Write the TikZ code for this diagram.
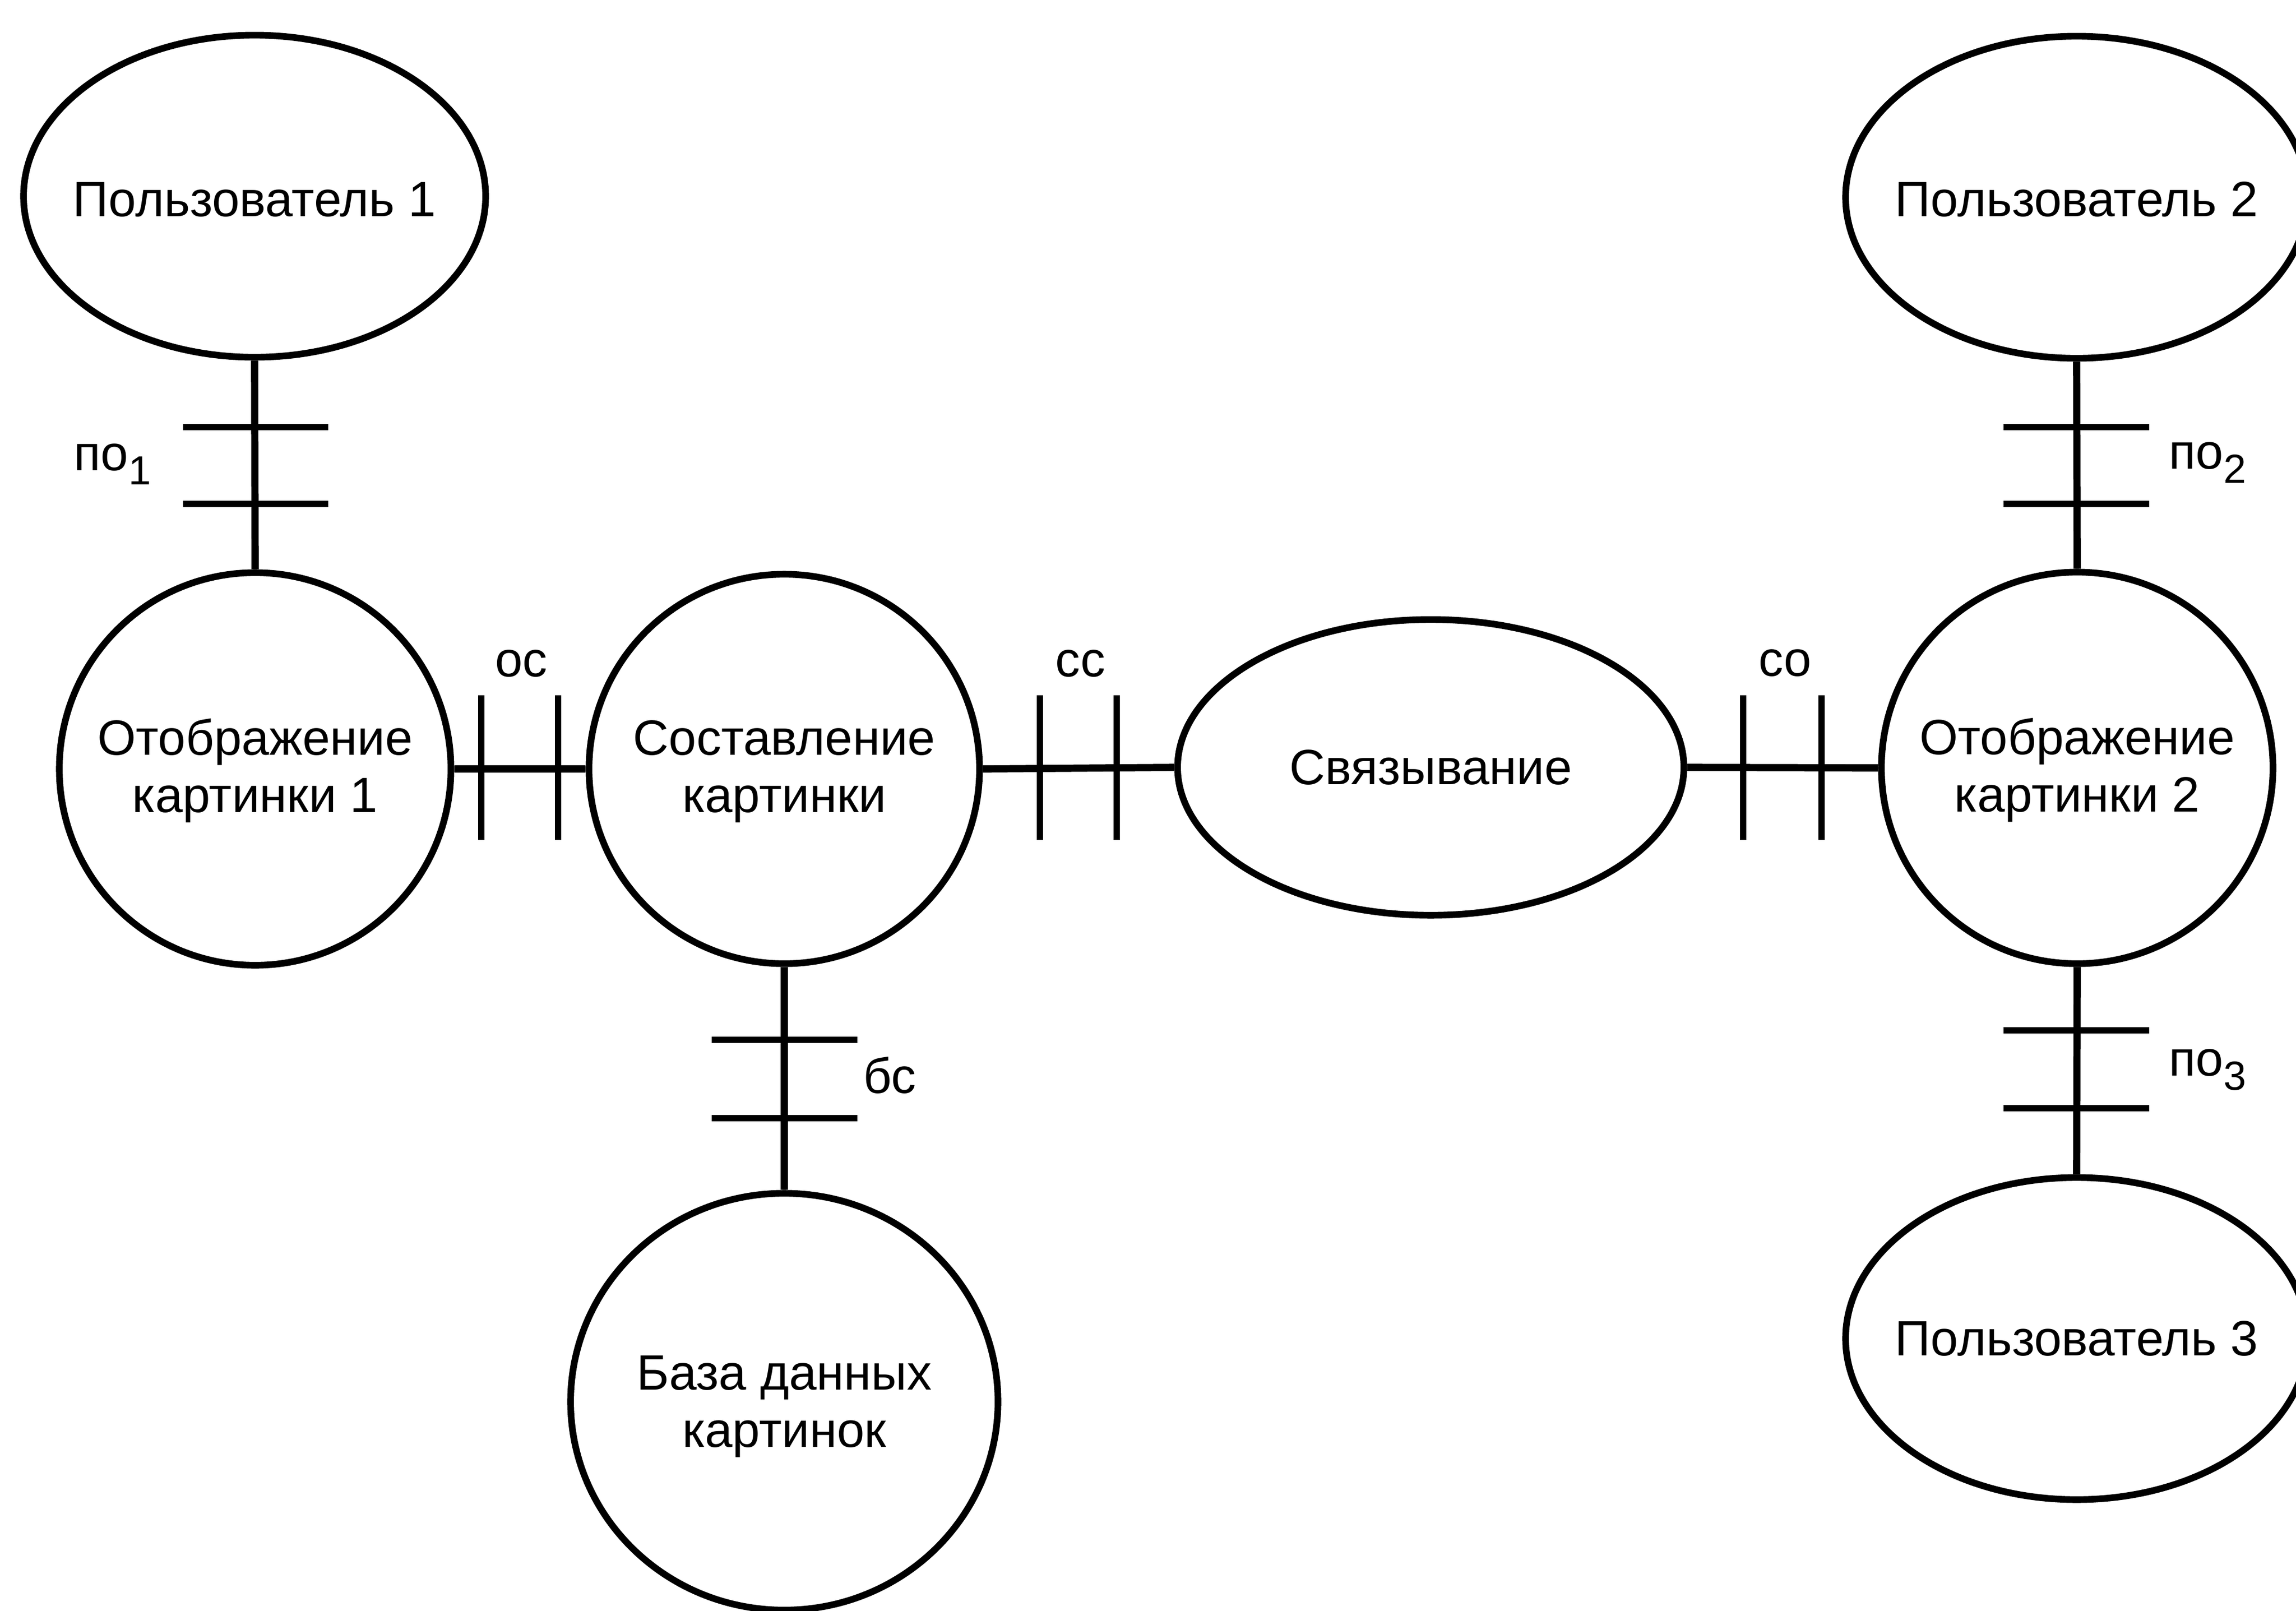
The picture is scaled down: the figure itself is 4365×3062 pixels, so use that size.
\documentclass[tikz,border=0pt]{standalone}
\usepackage{fontspec}
\setmainfont{Liberation Sans}
\usetikzlibrary{shapes.geometric}
\begin{document}
\begin{tikzpicture}[x=0.01cm,y=-0.01cm,
  txt/.style={font=\fontsize{26.8}{31}\selectfont},
  proc/.style={ellipse, draw, line width=3.6pt, inner sep=0pt},
  ptext/.style={txt, align=center, inner sep=0pt},
  conn/.style={line width=3.9pt},
  tickline/.style={line width=3.6pt},
  lab/.style={inner sep=0pt, anchor=base west, txt},
  labc/.style={inner sep=0pt, anchor=base, txt}]
\useasboundingbox (0,0) rectangle (4365,3062);
\clip (0,0) rectangle (4365,3062);
\newcommand{\subdig}[1]{\raisebox{-0.27cm}{\fontsize{22}{22}\selectfont #1}}

% nodes (shapes)
\node[proc, minimum width=8.78cm, minimum height=6.12cm] (u1) at (484,373) {};
\node[proc, minimum width=8.78cm, minimum height=6.12cm] (u2) at (3948,375) {};
\node[proc, minimum width=8.78cm, minimum height=6.12cm] (u3) at (3948,2545) {};
\node[proc, minimum width=7.44cm, minimum height=7.46cm] (d1) at (485,1462) {};
\node[proc, minimum width=7.42cm, minimum height=7.40cm] (cp) at (1491,1462) {};
\node[proc, minimum width=9.62cm, minimum height=5.62cm] (lk) at (2720,1459) {};
\node[proc, minimum width=7.44cm, minimum height=7.44cm] (d2) at (3949,1460) {};
\node[proc, minimum width=8.12cm, minimum height=7.92cm] (db) at (1491,2665) {};

% node texts
\node[ptext] (u1t) at ([yshift=-0.07cm]u1.center) {Пользователь 1};
\node[ptext] (u2t) at ([yshift=-0.04cm]u2.center) {Пользователь 2};
\node[ptext] (u3t) at (u3.center) {Пользователь 3};
\node[ptext] (d1t) at ([yshift=-0.03cm]d1.center) {Отображение\\картинки 1};
\node[ptext] (cpt) at ([yshift=-0.05cm]cp.center) {Составление\\картинки};
\node[ptext] (lkt) at (lk.center) {Связывание};
\node[ptext] (d2t) at ([yshift=-0.04cm]d2.center) {Отображение\\картинки 2};
\node[ptext] (dbt) at ([yshift=-0.09cm]db.center) {База данных\\картинок};

% connectors
\draw[conn] (u1.south) -- (d1.north);
\draw[conn] (u2.south) -- (d2.north);
\draw[conn] (d2.south) -- (u3.north);
\draw[conn] (cp.south) -- (db.north);
\draw[conn] (d1.east) -- (cp.west);
\draw[conn] (cp.east) -- (lk.west);
\draw[conn] (lk.east) -- (d2.west);

% ticks
\draw[tickline] (348,812) -- (624,812);
\draw[tickline] (348,958) -- (624,958);
\draw[tickline] (3809,812) -- (4086,812);
\draw[tickline] (3809,958) -- (4086,958);
\draw[tickline] (3809,1959) -- (4086,1959);
\draw[tickline] (3809,2107) -- (4086,2107);
\draw[tickline] (1353,1977) -- (1630,1977);
\draw[tickline] (1353,2126) -- (1630,2126);
\draw[tickline] (915,1322) -- (915,1597);
\draw[tickline] (1061,1322) -- (1061,1597);
\draw[tickline] (1977,1322) -- (1977,1597);
\draw[tickline] (2123,1322) -- (2123,1597);
\draw[tickline] (3314,1322) -- (3314,1597);
\draw[tickline] (3463,1322) -- (3463,1597);

% labels
\node[lab] (l1) at (140,894) {по\subdig{1}};
\node[lab] (l2) at (4123,891) {по\subdig{2}};
\node[lab] (l3) at (4123,2045) {по\subdig{3}};
\node[lab] (l4) at (1641,2078) {бс};
\node[labc] (l5) at (991,1286) {ос};
\node[labc] (l6) at (2054,1286) {сс};
\node[labc] (l7) at (3394,1285) {со};
\end{tikzpicture}
\end{document}
